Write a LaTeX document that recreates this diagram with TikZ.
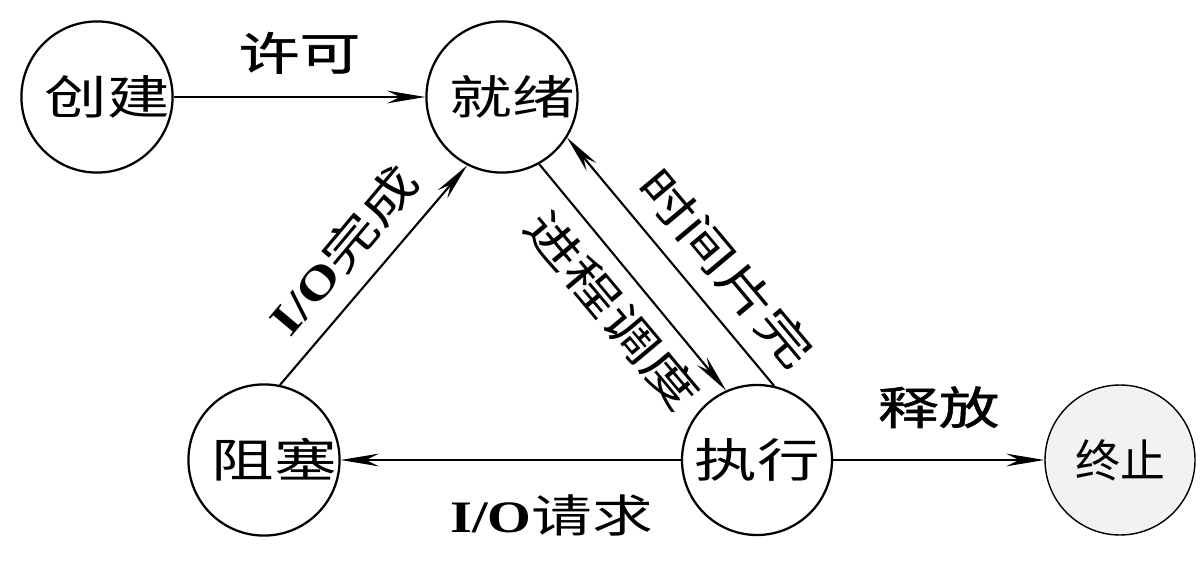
\documentclass[tikz,border=0pt]{standalone}
\usepackage{fontspec}
\newfontfamily\cjk[FakeStretch=1.35]{Noto Sans CJK SC}
\newfontfamily\cjkbold[FakeStretch=1.35, FakeBold=1.3]{Noto Sans CJK SC}
\newfontfamily\cjknarrow{Noto Sans CJK SC}
\newfontfamily\iofont[FakeStretch=1.25]{Liberation Serif}
\usetikzlibrary{arrows.meta}

\begin{document}
\begin{tikzpicture}[
  state/.style={draw, circle, line width=1.6pt, minimum size=3.75cm, inner sep=0pt,
                font=\fontsize{33}{33}\selectfont\cjk},
  offtext/.style={execute at begin node={\hspace*{0.5cm}}},
  trans/.style={-{Stealth[length=27pt, width=9pt, inset=9pt]}, line width=1.5pt},
  lbl/.style={font=\fontsize{32}{32}\selectfont\cjk, inner sep=2pt},
  blbl/.style={lbl, font=\fontsize{32}{32}\selectfont\cjkbold}
]
\useasboundingbox (0,0) rectangle (30,14.05);

% === States ===
\node[state, offtext] (create) at (2.425, 11.625) {创建};
\node[state, offtext] (ready) at (12.55, 11.625) {就绪};
\node[state, offtext] (block) at (6.6, 2.55) {阻塞};
\node[state] (run) at (18.925, 2.55) {执行};
\node[state, fill=black!5, line width=1pt, font=\fontsize{32}{32}\selectfont\cjknarrow] (exit) at (28.0, 2.55) {终止};

% === Transitions ===
\draw[trans] (create) -- node[blbl, above=14pt] (permit) {许可} (ready);
\draw[trans] (ready.-61) -- (run.114);
\draw[trans] (run.77) -- (ready.-32);
\draw[trans] (block.78) -- (ready.243);
\draw[trans] (run) -- node[lbl, below=22pt, pos=0.38] (ioreq) {{\iofont\bfseries I/O}请求} (block);
\draw[trans] (run) -- node[blbl, above=20pt] (release) {释放} (exit);

% sloped labels
\node[lbl, rotate=50] (iodone) at (8.575, 7.8) {{\iofont\bfseries I/O}完成};
\node[lbl, rotate=-50] (sched) at (15.325, 6.3) {进程调度};
\node[lbl, rotate=-50] (slice) at (18.175, 7.35) {时间片完};

\end{tikzpicture}
\end{document}
